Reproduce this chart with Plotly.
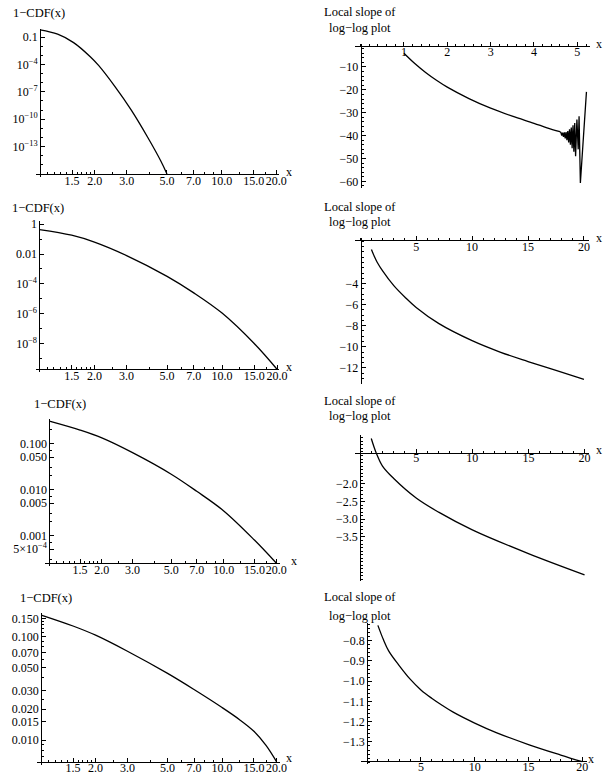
import plotly.graph_objects as go

W, H = 611, 783
FONT = "Liberation Serif"

# ---------------- data ----------------
# left column: 1-CDF(x), log-log axes
L1_x = [1.0, 1.25, 1.53, 1.89, 2.10, 2.58, 3.18, 3.92, 4.63, 5.0]
L1_y = [0.63, 0.209, 0.0251, 7.1e-4, 7.9e-5, 4.0e-7, 1.0e-9, 1.0e-12, 2.5e-15, 1.0e-16]

L2_x = [1.0, 1.5, 2.0, 3.0, 5.0, 7.0, 10.0, 15.0, 20.0]
L2_y = [0.437, 0.182, 0.063, 7.9e-3, 3.2e-4, 2.5e-5, 1.1e-6, 1.0e-8, 1.9e-10]

L3_x = [1.0, 1.5, 2.0, 3.0, 5.0, 7.0, 10.0, 15.0, 20.0]
L3_y = [0.305, 0.195, 0.132, 0.063, 0.0214, 9.1e-3, 3.4e-3, 7.9e-4, 2.5e-4]

L4_x = [1.0, 1.5, 2.0, 3.0, 5.0, 7.0, 10.0, 12.5, 15.0, 17.5, 20.0]
L4_y = [0.162, 0.127, 0.1035, 0.0724, 0.0442, 0.0309, 0.0207, 0.0158, 0.0122, 0.0089, 0.0062]

# right column: local slope of the log-log plot
R1_x = [1.0, 1.25, 1.5, 1.75, 2.0, 2.5, 3.0, 3.5, 4.0, 4.3, 4.6]
R1_y = [-4.0, -8.5, -12.4, -15.8, -18.8, -23.8, -28.0, -31.5, -34.6, -36.6, -38.3]
R1_noise_x = [4.6, 4.62, 4.64, 4.66, 4.68, 4.70, 4.72, 4.74, 4.76, 4.78, 4.80, 4.82,
              4.84, 4.86, 4.88, 4.90, 4.92, 4.94, 4.96, 4.99, 5.02, 5.04, 5.07, 5.21]
R1_noise_y = [-38.3, -38.6, -40.0, -38.7, -40.6, -38.6, -41.2, -38.4, -42.0, -38.0, -43.0, -37.2,
              -44.0, -36.5, -45.5, -35.5, -47.0, -34.5, -49.0, -33.0, -46.0, -31.5, -60.7, -20.9]

R2_x = [1.0, 1.25, 1.5, 2.0, 3.0, 4.0, 5.0, 7.0, 10.0, 12.5, 15.0, 17.5, 20.0]
R2_y = [-0.76, -1.4, -1.95, -2.8, -4.2, -5.3, -6.27, -7.78, -9.42, -10.5, -11.4, -12.25, -13.1]

R3_x = [1.0, 1.43, 2.0, 3.0, 5.0, 7.0, 10.0, 15.0, 20.0]
R3_y = [-0.72, -1.12, -1.5, -1.85, -2.4, -2.8, -3.3, -3.97, -4.57]

R4_x = [1, 1.5, 2, 3, 4, 5, 6, 7, 8, 10, 12, 15, 18, 20]
R4_y = [-0.724, -0.793, -0.85, -0.924, -0.99, -1.043, -1.084, -1.12, -1.153,
        -1.207, -1.254, -1.313, -1.365, -1.398]

# tick labels
LX_ticks = [1.5, 2.0, 3.0, 5.0, 7.0, 10.0, 15.0, 20.0]
LX_text = ["1.5", "2.0", "3.0", "5.0", "7.0", "10.0", "15.0", "20.0"]
LX_minor = [1.1, 1.2, 1.3, 1.4, 1.6, 1.7, 1.8, 1.9, 2.5, 4.0, 6.0, 8.0, 9.0, 12.5, 17.5]

L1_yt = [0.1, 1e-4, 1e-7, 1e-10, 1e-13]
L1_ytext = ["0.1", "10<sup>−4</sup>", "10<sup>−7</sup>", "10<sup>−10</sup>", "10<sup>−13</sup>"]
L1_ymin = [1e-2, 1e-3, 1e-5, 1e-6, 1e-8, 1e-9, 1e-11, 1e-12, 1e-14, 1e-15]
L2_yt = [1, 0.01, 1e-4, 1e-6, 1e-8]
L2_ytext = ["1", "0.01", "10<sup>−4</sup>", "10<sup>−6</sup>", "10<sup>−8</sup>"]
L2_ymin = [0.1, 1e-3, 1e-5, 1e-7, 1e-9]
L3_yt = [0.1, 0.05, 0.01, 0.005, 0.001, 5e-4]
L3_ytext = ["0.100", "0.050", "0.010", "0.005", "0.001", "5×10<sup>−4</sup>"]
L3_ymin = [0.3, 0.2, 0.07, 0.03, 0.02, 0.007, 0.003, 0.002, 7e-4, 3e-4]
L4_yt = [0.15, 0.1, 0.07, 0.05, 0.03, 0.02, 0.015, 0.01]
L4_ytext = ["0.150", "0.100", "0.070", "0.050", "0.030", "0.020", "0.015", "0.010"]
L4_ymin = [0.14, 0.13, 0.12, 0.11, 0.09, 0.08, 0.06, 0.04, 0.025, 0.009, 0.008, 0.007]

R1_xt = [1, 2, 3, 4, 5]
R1_yt = [-10, -20, -30, -40, -50, -60]
R1_ytext = ["−10", "−20", "−30", "−40", "−50", "−60"]
RX_t = [5, 10, 15, 20]
R2_yt = [-4, -6, -8, -10, -12]
R2_ytext = ["−4", "−6", "−8", "−10", "−12"]
R3_yt = [-2.0, -2.5, -3.0, -3.5]
R3_ytext = ["−2.0", "−2.5", "−3.0", "−3.5"]
R4_yt = [-0.8, -0.9, -1.0, -1.1, -1.2, -1.3]
R4_ytext = ["−0.8", "−0.9", "−1.0", "−1.1", "−1.2", "−1.3"]


def lin(p1, v1, p2, v2):
    k = (v2 - v1) / (p2 - p1)
    return lambda p: v1 + (p - p1) * k


# panel geometry (pixels) and calibration: (px, value) pairs; log axes in log10 units
panels = [
    dict(xs=[L1_x], ys=[L1_y], shape=["spline"], xtype="log", ytype="log",
         xcal=(40.6, 0, 224.6, 1), ycal=(33.3, -1, 143.3, -13), dom=(36.5, 283, 25, 174),
         xline=171, yline=40.6, xt=LX_ticks, xtext=LX_text, xmin=LX_minor, xso=-5,
         yt=L1_yt, ytext=L1_ytext, ymin=L1_ymin, xlab=(293, 169), lab=[("1−CDF(x)", 40, 9)]),
    dict(xs=[R1_x, R1_noise_x], ys=[R1_y, R1_noise_y], shape=["spline", "linear"],
         xtype="linear", ytype="linear",
         xcal=(409.3, 1, 585, 5), ycal=(63.3, -10, 178.3, -60), dom=(360, 598.3, 40, 185),
         xline=42.7, yline=365.5, xt=R1_xt, xtext=[str(v) for v in R1_xt], xmin=0.2, xso=-6,
         yt=R1_yt, ytext=R1_ytext, ymin=2, xlab=(607, 40),
         lab=[("Local slope of", 365, 8), ("log−log plot", 365, 24)]),
    dict(xs=[L2_x], ys=[L2_y], shape=["spline"], xtype="log", ytype="log",
         xcal=(40, 0, 225, 1), ycal=(221.3, 0, 341.3, -8), dom=(36, 283, 218.3, 370),
         xline=367.3, yline=40, xt=LX_ticks, xtext=LX_text, xmin=LX_minor, xso=-5,
         yt=L2_yt, ytext=L2_ytext, ymin=L2_ymin, xlab=(293, 365), lab=[("1−CDF(x)", 38, 205)]),
    dict(xs=[R2_x], ys=[R2_y], shape=["spline"], xtype="linear", ytype="linear",
         xcal=(421.7, 5, 591.7, 20), ycal=(281, -4, 365.7, -12), dom=(360, 596.7, 235.7, 381.7),
         xline=237.7, yline=365.5, xt=RX_t, xtext=[str(v) for v in RX_t], xmin=1, xso=-5,
         yt=R2_yt, ytext=R2_ytext, ymin=0.5, xlab=(607, 235),
         lab=[("Local slope of", 365, 204), ("log−log plot", 365, 219.5)]),
    dict(xs=[L3_x], ys=[L3_y], shape=["spline"], xtype="log", ytype="log",
         xcal=(50, 0, 226.7, 1), ycal=(441.7, -1, 534.1, -3), dom=(46, 283.3, 416.7, 565),
         xline=562.3, yline=50, xt=LX_ticks, xtext=LX_text, xmin=LX_minor, xso=-5,
         yt=L3_yt, ytext=L3_ytext, ymin=L3_ymin, xlab=(298, 560), lab=[("1−CDF(x)", 61, 402)]),
    dict(xs=[R3_x], ys=[R3_y], shape=["spline"], xtype="linear", ytype="linear",
         xcal=(421.7, 5, 592.3, 20), ycal=(482.3, -2, 535.7, -3.5), dom=(360, 596.7, 433.3, 580),
         xline=451, yline=365, xt=RX_t, xtext=[str(v) for v in RX_t], xmin=1, xso=-6,
         yt=R3_yt, ytext=R3_ytext, ymin=0.1, xlab=(607, 448),
         lab=[("Local slope of", 365, 399), ("log−log plot", 365, 414.5)]),
    dict(xs=[L4_x], ys=[L4_y], shape=["spline"], xtype="log", ytype="log",
         xcal=(41.7, 0, 225, 1), ycal=(636, -1, 740, -2), dom=(37.5, 283.3, 611.7, 764.5),
         xline=761.7, yline=41.7, xt=LX_ticks, xtext=LX_text, xmin=LX_minor, xso=-5,
         yt=L4_yt, ytext=L4_ytext, ymin=L4_ymin, xlab=(293, 758), lab=[("1−CDF(x)", 47, 597)]),
    dict(xs=[R4_x], ys=[R4_y], shape=["spline"], xtype="linear", ytype="linear",
         xcal=(426.5, 5, 590, 20), ycal=(640, -0.8, 741.7, -1.3), dom=(366, 595, 622.3, 764),
         xline=761, yline=372, xt=RX_t, xtext=[str(v) for v in RX_t], xmin=1, xso=-6,
         yt=R4_yt, ytext=R4_ytext, ymin=0.02, xlab=(599, 759),
         lab=[("Local slope of", 365, 596), ("log−log plot", 365, 615)]),
]

fig = go.Figure()
annotations = []
tickfont = dict(family=FONT, size=12, color="black")

for i, p in enumerate(panels):
    n = i + 1
    sfx = "" if n == 1 else str(n)
    for xs, ys, sh in zip(p["xs"], p["ys"], p["shape"]):
        fig.add_trace(go.Scatter(x=xs, y=ys, mode="lines", xaxis="x" + sfx, yaxis="y" + sfx,
                                 line=dict(color="black", width=1.3, shape=sh, smoothing=1.0),
                                 showlegend=False, hoverinfo="skip"))
    fx = lin(*p["xcal"])
    fy = lin(*p["ycal"])
    x0, x1, yt, yb = p["dom"]
    if isinstance(p["xmin"], list):
        xminor = dict(tickmode="array", tickvals=p["xmin"], ticks="inside", ticklen=2,
                      tickcolor="black", tickwidth=1)
    else:
        xminor = dict(dtick=p["xmin"], tick0=0, ticks="inside", ticklen=2,
                      tickcolor="black", tickwidth=1)
    if isinstance(p["ymin"], list):
        yminor = dict(tickmode="array", tickvals=p["ymin"], ticks="inside", ticklen=2,
                      tickcolor="black", tickwidth=1)
    else:
        yminor = dict(dtick=p["ymin"], tick0=0, ticks="inside", ticklen=2,
                      tickcolor="black", tickwidth=1)
    fig.layout["xaxis" + sfx] = dict(
        type=p["xtype"], domain=[x0 / W, x1 / W], range=[fx(x0), fx(x1)],
        anchor="free", position=1 - p["xline"] / H, side="bottom",
        showline=True, linecolor="black", linewidth=1, showgrid=False, zeroline=False,
        tickmode="array", tickvals=p["xt"], ticktext=p["xtext"], tickangle=0,
        ticks="inside", ticklen=4, tickcolor="black", tickwidth=1,
        tickfont=tickfont, ticklabelstandoff=p["xso"], minor=xminor)
    fig.layout["yaxis" + sfx] = dict(
        type=p["ytype"], domain=[1 - yb / H, 1 - yt / H], range=[fy(yb), fy(yt)],
        anchor="free", position=p["yline"] / W, side="left",
        showline=True, linecolor="black", linewidth=1, showgrid=False, zeroline=False,
        tickmode="array", tickvals=p["yt"], ticktext=p["ytext"],
        ticks="inside", ticklen=4, tickcolor="black", tickwidth=1,
        tickfont=tickfont, ticklabelstandoff=0, minor=yminor)
    annotations.append(dict(text="x", x=p["xlab"][0] / W, y=1 - p["xlab"][1] / H,
                            xref="paper", yref="paper", showarrow=False,
                            xanchor="center", yanchor="middle",
                            font=dict(family=FONT, size=12, color="black")))
    for txt, lx, ly in p["lab"]:
        annotations.append(dict(text=txt, x=lx / W, y=1 - ly / H, xref="paper", yref="paper",
                                showarrow=False, xanchor="center", yanchor="middle",
                                font=dict(family=FONT, size=12.5, color="black")))

fig.update_layout(width=W, height=H, margin=dict(l=0, r=0, t=0, b=0),
                  paper_bgcolor="white", plot_bgcolor="white",
                  annotations=annotations, showlegend=False)

fig.write_html("out.html", config={"displayModeBar": False},
               post_script="document.body.style.margin='0px';document.body.style.padding='0px';")
